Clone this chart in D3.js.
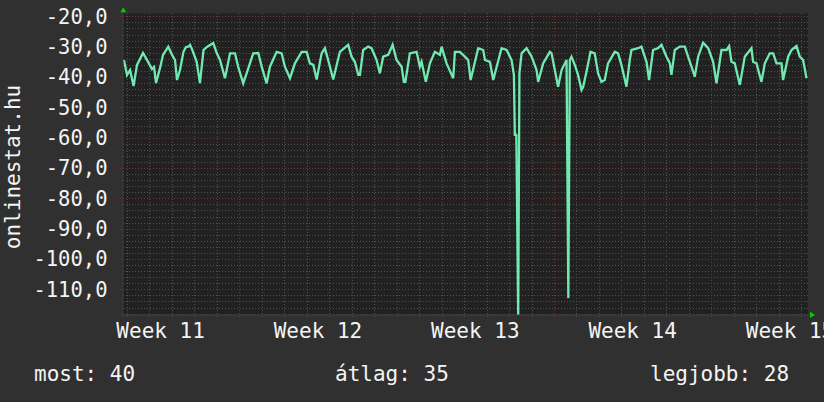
<!DOCTYPE html>
<html><head><meta charset="utf-8">
<script src="https://cdn.jsdelivr.net/npm/d3@7"></script>
<style>html,body{margin:0;padding:0;background:#303030;overflow:hidden}</style>
</head><body><svg id="c" width="824" height="402"></svg>
<script>
// hours since Monday 00:00 of week 11
const sampleHours = [44.9,48.1,51.4,55.1,58.8,65.2,70.6,74.8,77.0,79.1,83.4,86.6,92.2,96.2,99.4,101.5,104.7,108.4,111.1,113.6,115.4,117.5,122.5,126.0,129.8,133.5,140.2,143.9,147.4,152.7,158.1,163.4,166.9,172.2,175.9,182.9,188.3,191.9,197.2,200.7,207.9,213.2,216.7,222.1,227.4,234.6,239.9,243.4,247.0,250.6,255.9,259.4,264.8,268.3,275.4,284.3,287.9,291.4,295.0,296.8,300.3,305.6,309.2,314.6,318.1,321.6,327.0,331.7,335.9,341.3,343.7,345.3,350.1,357.3,360.8,362.6,367.2,371.5,376.8,382.2,384.0,389.3,396.4,398.2,403.5,408.9,412.4,415.0,423.1,428.4,430.3,435.6,439.1,448.0,453.4,458.7,461.2,462.2,463.8,465.8,467.1,469.4,474.7,480.1,485.4,487.1,492.4,499.6,501.4,504.9,508.4,512.1,517.4,519.3,520.9,522.7,526.2,529.7,533.4,535.1,538.7,543.0,547.5,551.1,554.7,558.2,561.7,568.9,572.4,576.0,581.4,584.9,586.7,593.8,597.4,600.9,602.8,605.5,609.8,615.1,618.8,624.1,627.7,629.4,633.0,638.3,643.7,647.2,650.8,654.3,657.9,663.2,668.6,673.9,677.5,682.8,688.2,691.0,693.5,697.0,702.4,707.7,714.8,716.6,720.2,725.5,729.1,734.4,738.0,741.6,746.9,748.6,754.0,757.6,762.9,766.4,770.0,773.6];
const sampleValues = [-34.4,-39.3,-37.7,-43.0,-36.0,-32.1,-35.0,-37.4,-36.7,-42.0,-37.0,-32.7,-30.0,-32.7,-34.4,-41.0,-37.7,-31.7,-30.1,-30.0,-29.4,-30.8,-35.0,-42.0,-31.1,-30.1,-28.8,-32.1,-34.4,-40.4,-32.2,-32.2,-36.7,-42.1,-38.7,-32.2,-32.1,-36.6,-42.1,-36.6,-31.7,-32.2,-36.6,-40.4,-35.5,-31.7,-31.7,-35.5,-36.0,-40.8,-32.2,-30.5,-36.6,-40.8,-31.7,-29.4,-33.3,-35.0,-39.3,-39.3,-31.1,-30.0,-30.5,-34.4,-38.8,-33.3,-32.7,-29.4,-34.4,-36.6,-41.6,-41.6,-32.2,-31.7,-36.6,-35.0,-41.6,-35.5,-31.7,-32.7,-30.0,-35.5,-40.4,-31.7,-31.7,-33.3,-34.4,-41.0,-30.5,-31.1,-34.4,-35.0,-41.0,-30.5,-31.1,-34.4,-39.3,-59.1,-59.1,-119.5,-38.7,-32.2,-30.5,-33.3,-37.7,-41.6,-35.5,-31.7,-32.2,-37.7,-43.2,-37.7,-34.4,-112.9,-34.4,-33.3,-36.0,-39.3,-44.3,-43.3,-38.3,-31.7,-32.2,-38.8,-41.6,-41.0,-35.5,-31.7,-32.2,-36.0,-43.2,-34.4,-31.1,-30.5,-30.0,-33.3,-35.0,-41.0,-31.1,-30.5,-29.4,-33.3,-35.5,-39.3,-31.1,-30.0,-30.0,-33.3,-36.6,-39.9,-33.3,-28.7,-30.5,-35.0,-42.1,-31.1,-31.1,-29.8,-35.0,-35.5,-42.6,-33.3,-30.5,-35.0,-35.5,-41.6,-35.5,-32.2,-32.2,-35.5,-35.5,-41.0,-33.3,-31.1,-29.8,-33.3,-34.4,-40.4];
const yTicks = [-20,-30,-40,-50,-60,-70,-80,-90,-100,-110];
const weekLabels = ["Week 11","Week 12","Week 13","Week 14","Week 15"];
const weekLabelHours = [84,252,420,588,756];
const yTitle = "onlinestat.hu";
const legendItems = ["most: 40","átlag: 35","legjobb: 28"];

const W=824,H=402;
const L=123.3,R=808,T=13.3,B=314.5;
const x=d3.scaleLinear().domain([44.16,775.2]).range([L,R]);
const y=d3.scaleLinear().domain([-118.3,-19.0]).range([B,T]);
const svg=d3.select("#c");
const font="'DejaVu Sans Mono', monospace";
const loc=d3.formatLocale({decimal:",",thousands:".",grouping:[3],currency:["",""],minus:"-"});
const fmt=loc.format(".1f");

svg.append("rect").attr("width",W).attr("height",H).attr("fill","#303030");
svg.append("rect").attr("x",L).attr("y",T).attr("width",R-L).attr("height",B-T).attr("fill","#212121");

const grid=svg.append("g").attr("shape-rendering","crispEdges");
const minorC="#525252", majorC="#763535";
d3.range(-118,-18,2).filter(v=>v%10!==0).forEach(v=>{
  grid.append("line").attr("x1",L).attr("x2",R).attr("y1",Math.round(y(v))+0.5).attr("y2",Math.round(y(v))+0.5)
   .attr("stroke",minorC).attr("stroke-dasharray","1,2");
});
d3.range(48,776,24).filter(h=>h%168!==0).forEach(h=>{
  grid.append("line").attr("y1",T).attr("y2",B+2).attr("x1",Math.round(x(h))+0.5).attr("x2",Math.round(x(h))+0.5)
   .attr("stroke",minorC).attr("stroke-dasharray","1,2");
});
yTicks.forEach(v=>{
  grid.append("line").attr("x1",L-3).attr("x2",R).attr("y1",Math.round(y(v))+0.5).attr("y2",Math.round(y(v))+0.5)
   .attr("stroke",majorC).attr("stroke-dasharray","1,2");
});
d3.range(168,776,168).forEach(h=>{
  grid.append("line").attr("y1",T).attr("y2",B+3).attr("x1",Math.round(x(h))+0.5).attr("x2",Math.round(x(h))+0.5)
   .attr("stroke",majorC).attr("stroke-dasharray","1,2");
});

svg.append("line").attr("x1",L-3).attr("x2",R+2).attr("y1",B+0.5).attr("y2",B+0.5).attr("stroke","#3c3c3c");
svg.append("line").attr("x1",L-0.5).attr("x2",L-0.5).attr("y1",T-2).attr("y2",B+3).attr("stroke","#3c3c3c");
svg.append("path").attr("d",`M${L-3},${T-1}L${L+3},${T-1}L${L},${T-6}Z`).attr("fill","#00cc00");
svg.append("path").attr("d",`M${R+2},${B-3}L${R+2},${B+3.5}L${R+7},${B+0.5}Z`).attr("fill","#00cc00");

svg.append("clipPath").attr("id","pc").append("rect").attr("x",L).attr("y",T).attr("width",R-L).attr("height",B-T);
const pts=sampleHours.map((h,i)=>[h,sampleValues[i]]);
svg.append("path").attr("clip-path","url(#pc)")
  .attr("d",d3.line().x(d=>x(d[0])).y(d=>y(d[1]))(pts))
  .attr("fill","none").attr("stroke","#70eab0").attr("stroke-width",2.3).attr("stroke-linejoin","miter");

svg.append("g").selectAll("text").data(yTicks).join("text")
  .attr("x",107.5).attr("y",d=>y(d)+7.4).attr("text-anchor","end")
  .attr("font-family",font).attr("font-size",20.5).attr("fill","#f4f4f4").text(d=>fmt(d));
svg.append("g").selectAll("text").data(weekLabels).join("text")
  .attr("x",(d,i)=>x(weekLabelHours[i])).attr("y",338).attr("text-anchor","middle")
  .attr("font-family",font).attr("font-size",21).attr("fill","#f4f4f4").text(d=>d);
svg.append("text").attr("transform","translate(20,167) rotate(-90)").attr("text-anchor","middle")
  .attr("font-family",font).attr("font-size",21).attr("fill","#f4f4f4").text(yTitle);
const legX=[34,335,650];
svg.append("g").selectAll("text").data(legendItems).join("text")
  .attr("x",(d,i)=>legX[i]).attr("y",381)
  .attr("font-family",font).attr("font-size",21).attr("fill","#f4f4f4").text(d=>d);
</script></body></html>
